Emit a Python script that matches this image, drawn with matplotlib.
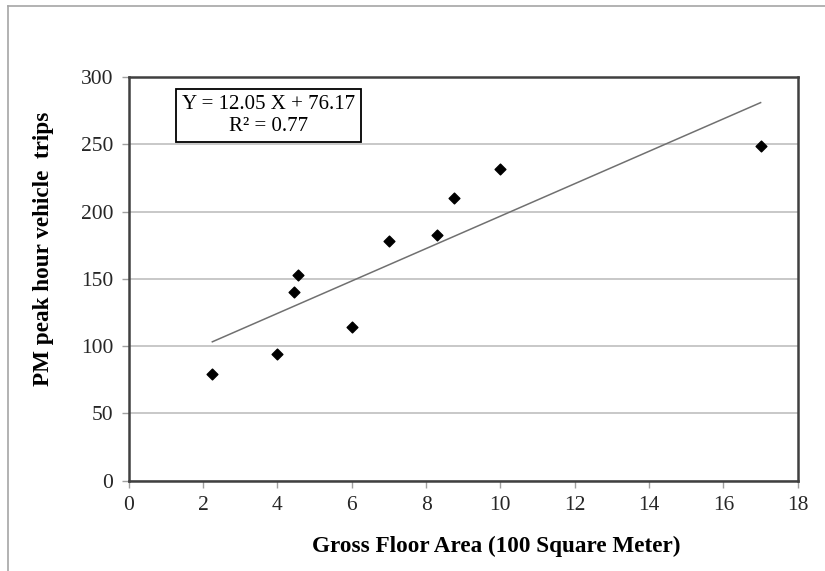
import matplotlib.pyplot as plt
import numpy as np
from matplotlib.lines import Line2D

plt.rcParams['font.family'] = ['Liberation Serif', 'DejaVu Serif']

# data
floor_area = [2.25, 4.0, 4.45, 4.55, 6.0, 7.0, 8.3, 8.75, 10.0, 17.0]
pm_trips = [79, 94, 140, 153, 114, 178, 183, 210, 232, 249]

# fitted line
slope = 12.05
intercept = 76.17
r_squared = 0.77

x_ticks = [0, 2, 4, 6, 8, 10, 12, 14, 16, 18]
y_ticks = [0, 50, 100, 150, 200, 250, 300]

fig = plt.figure(figsize=(8.25, 5.71), dpi=100)
ax = fig.add_axes([0.156, 0.158, 0.811, 0.707])

# grey frame around the figure (top and left edges visible)
fig.add_artist(Line2D([8 / 825, 1.0], [1 - 6 / 571, 1 - 6 / 571],
                      transform=fig.transFigure, color='#a6a6a6', lw=1.2))
fig.add_artist(Line2D([8 / 825, 8 / 825], [0.0, 1 - 6 / 571],
                      transform=fig.transFigure, color='#a6a6a6', lw=1.2))

ax.scatter(floor_area, pm_trips, marker='D', s=30, color='black', zorder=3)

x_fit = np.array([min(floor_area), max(floor_area)])
ax.plot(x_fit, slope * x_fit + intercept, color='#707070', lw=1.1, zorder=2)

ax.set_xlim(0, 18)
ax.set_ylim(0, 300)
ax.set_xticks(x_ticks)
ax.set_yticks(y_ticks)
ax.yaxis.grid(True, color='#bfbfbf', lw=1.2)
ax.set_axisbelow(True)

for sp in ax.spines.values():
    sp.set_color('#404040')
    sp.set_linewidth(1.8)

ax.tick_params(axis='both', direction='out', length=5, width=1, color='#a0a0a0',
               labelsize=15.5, labelcolor='#262626', pad=6)

ax.set_xlabel('Gross Floor Area (100 Square Meter)', fontsize=16.7, fontweight='bold')
ax.xaxis.set_label_coords(0.55, -0.137)
ax.set_ylabel('PM peak hour vehicle  trips', fontsize=16.7, fontweight='bold')
ax.yaxis.set_label_coords(-0.112, 0.574)

ax.text(0.2085, 0.905, f'Y = {slope:.2f} X + {intercept:.2f}\nR² = {r_squared:.2f}',
        transform=ax.transAxes, ha='center', va='center', fontsize=15,
        linespacing=1.2,
        bbox=dict(boxstyle='square,pad=0.28', fc='white', ec='black', lw=1.3))

fig.savefig('out.png', dpi=100)
